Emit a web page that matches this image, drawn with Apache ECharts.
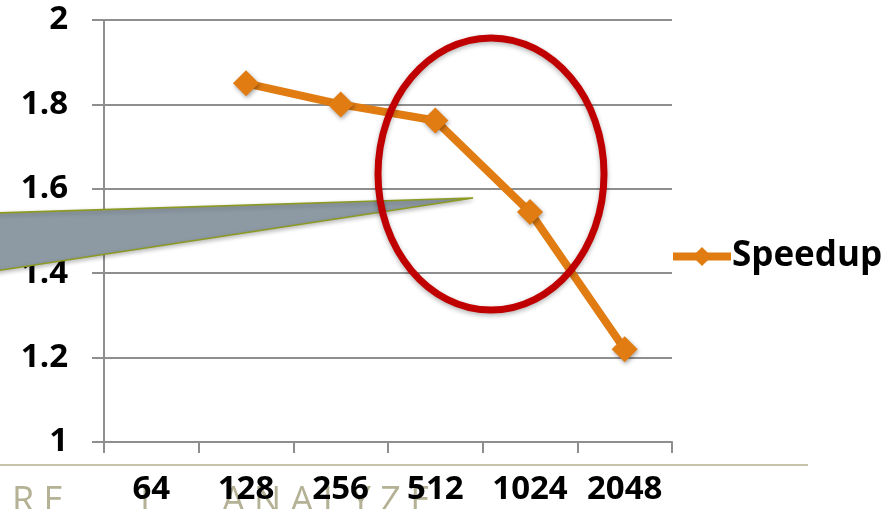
<!DOCTYPE html>
<html>
<head>
<meta charset="utf-8">
<script src="https://cdn.jsdelivr.net/npm/echarts@6/dist/echarts.min.js"></script>
<style>
html,body{margin:0;padding:0;background:#fff;}
#c{width:892px;height:509px;}
</style>
</head>
<body>
<div id="c"></div>
<script>
var categories = ['64', '128', '256', '512', '1024', '2048'];
var speedup = [null, 1.85, 1.80, 1.762, 1.545, 1.22];
var yTicks = [1, 1.2, 1.4, 1.6, 1.8, 2];
var seriesName = 'Speedup';

var FONT = 'Open Sans';
var gridColor = '#8e8e8e';
var orange = '#e07c12';

var chart = echarts.init(document.getElementById('c'), null, {renderer: 'canvas'});
chart.setOption({
  animation: false,
  backgroundColor: '#ffffff',
  grid: {left: 104, right: 220, top: 20, bottom: 67, containLabel: false},
  legend: {
    data: [seriesName],
    orient: 'vertical',
    left: 664,
    top: 234,
    itemWidth: 58,
    itemHeight: 24,
    itemStyle: {color: orange},
    lineStyle: {color: orange, width: 8},
    textStyle: {fontFamily: FONT, fontWeight: 'bold', fontSize: 35, color: '#000', padding: [0,0,0,-4]}
  },
  xAxis: {
    type: 'category',
    data: categories,
    boundaryGap: true,
    axisLine: {lineStyle: {color: gridColor, width: 2}},
    axisTick: {show: true, interval: 0, length: 11, lineStyle: {color: gridColor, width: 2}},
    axisLabel: {interval: 0, fontFamily: FONT, fontWeight: 'bold', fontSize: 33, color: '#000', margin: 31}
  },
  yAxis: {
    type: 'value',
    min: yTicks[0],
    max: yTicks[yTicks.length - 1],
    interval: yTicks[1] - yTicks[0],
    axisLine: {show: true, lineStyle: {color: gridColor, width: 2}},
    axisTick: {show: true, length: 12, lineStyle: {color: gridColor, width: 2}},
    splitLine: {show: true, lineStyle: {color: gridColor, width: 2}},
    axisLabel: {
      fontFamily: FONT, fontWeight: 'bold', fontSize: 33, color: '#000', margin: 36,
      formatter: function (v) {
        var best = yTicks[0];
        yTicks.forEach(function (t) { if (Math.abs(t - v) < Math.abs(best - v)) best = t; });
        return String(best);
      }
    }
  },
  series: [{
    name: seriesName,
    type: 'line',
    data: speedup,
    connectNulls: false,
    symbol: 'diamond',
    symbolSize: 26,
    lineStyle: {color: orange, width: 8},
    itemStyle: {color: orange, shadowBlur: 4, shadowColor: 'rgba(0,0,0,0.35)', shadowOffsetX: 1, shadowOffsetY: 2},
    z: 3
  }],
  graphic: [
    {
      type: 'line', z: 1,
      shape: {x1: 0, y1: 465, x2: 808, y2: 465},
      style: {stroke: '#c6c3aa', lineWidth: 2}
    },
    {
      type: 'text', z: -5, left: 12, top: 484,
      style: {text: 'R E', fontFamily: FONT, fontSize: 36, fill: '#b4b195'}
    },
    {
      type: 'text', z: -5, left: 140, top: 484,
      style: {text: 'I', fontFamily: FONT, fontSize: 36, fill: '#b4b195'}
    },
    {
      type: 'text', z: -5, left: 222, top: 484,
      style: {text: 'A N A L Y Z E', fontFamily: FONT, fontSize: 36, fill: '#b4b195'}
    },
    {
      type: 'polygon', z: 100,
      shape: {points: [[-5, 213], [473, 198], [-5, 271]]},
      style: {fill: '#8d99a3', stroke: '#8c9a22', lineWidth: 1.6,
               shadowBlur: 4, shadowColor: 'rgba(0,0,0,0.25)', shadowOffsetY: 2}
    },
    {
      type: 'ellipse', z: 101,
      shape: {cx: 491, cy: 174, rx: 113, ry: 136},
      style: {fill: 'none', stroke: '#c00000', lineWidth: 7,
               shadowBlur: 5, shadowColor: 'rgba(0,0,0,0.3)', shadowOffsetY: 2}
    }
  ]
});
</script>
</body>
</html>
